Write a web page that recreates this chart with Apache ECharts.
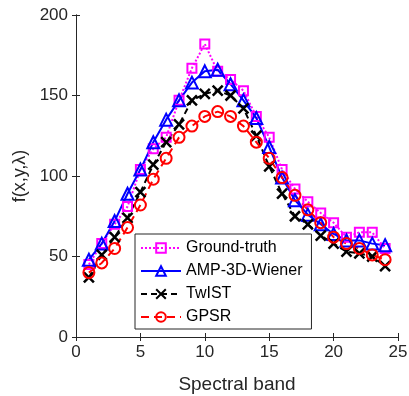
<!DOCTYPE html>
<html>
<head>
<meta charset="utf-8">
<script src="https://cdn.jsdelivr.net/npm/echarts@6/dist/echarts.min.js"></script>
<style>
  html, body { margin: 0; padding: 0; background: #fff; }
  #chart { width: 409px; height: 396px; }
</style>
</head>
<body>
<div id="chart"></div>
<script>
// spectral bands 1..24
const bands = [1, 2, 3, 4, 5, 6, 7, 8, 9, 10, 11, 12, 13, 14, 15, 16, 17, 18, 19, 20, 21, 22, 23, 24]
const groundTruth = [45, 58, 70, 81, 104, 117, 124, 147, 167, 182, 165, 160, 153, 137, 124, 104, 92, 84, 77, 71, 62, 65, 65, 55]
const ampWiener = [48, 58, 72, 89, 104, 121, 135, 147, 158, 165, 166, 157, 147, 136, 118, 99, 85, 76, 70, 64, 60, 60, 58, 57]
const twist = [37, 51, 62, 74, 90, 107, 121, 132, 147, 151, 153, 150, 142, 125, 106, 89, 75, 70, 63, 58, 53, 52, 50, 44]
const gpsr = [40, 46, 55, 68, 82, 98, 111, 124, 131, 137, 140, 137, 131, 121, 111, 99, 88, 79, 71, 62, 58, 55, 51, 48]
const xTicks = [0, 5, 10, 15, 20, 25]
const yTicks = [0, 50, 100, 150, 200]

const font = 'Liberation Sans, Arial, Helvetica, sans-serif'
const axisColor = '#262626'
const toPairs = arr => arr.map((v, i) => [bands[i], v])

const chart = echarts.init(document.getElementById('chart'))

const baseAxis = {
  axisLine: { show: true, lineStyle: { color: axisColor, width: 1 } },
  axisTick: { show: true, inside: true, length: 4, lineStyle: { color: axisColor } },
  splitLine: { show: false }
}

const option = {
  animation: false,
  backgroundColor: '#fff',
  grid: { left: 76, right: 11, top: 15, bottom: 59, containLabel: false, outerBoundsMode: 'none' },
  legend: {
    orient: 'vertical',
    left: 135,
    top: 234,
    padding: [5, 9, 3, 5],
    itemWidth: 40,
    itemHeight: 12,
    itemGap: 5,
    itemTextGap: 7,
    backgroundColor: '#fff',
    borderColor: axisColor,
    borderWidth: 1,
    textStyle: { fontFamily: font, fontSize: 16, color: '#000', lineHeight: 18 },
    data: ['Ground-truth', 'AMP-3D-Wiener', 'TwIST', 'GPSR']
  },
  xAxis: [
    {
      ...baseAxis,
      type: 'value',
      min: 0, max: 25, interval: 5,
      name: 'Spectral band',
      nameLocation: 'middle',
      nameGap: 38,
      nameTextStyle: { fontFamily: font, fontSize: 19, color: axisColor },
      axisLabel: { fontFamily: font, fontSize: 17, color: axisColor, margin: 7 }
    },
    {
      ...baseAxis,
      type: 'value', position: 'top',
      min: 0, max: 25, interval: 5,
      axisLabel: { show: false }
    }
  ],
  yAxis: [
    {
      ...baseAxis,
      type: 'value',
      min: 0, max: 200, interval: 50,
      name: 'f(x,y,λ)',
      nameLocation: 'middle',
      nameGap: 41,
      nameTextStyle: { fontFamily: font, fontSize: 18, color: axisColor },
      axisLabel: { fontFamily: font, fontSize: 17, color: axisColor, margin: 8 }
    },
    {
      ...baseAxis,
      type: 'value', position: 'right',
      min: 0, max: 200, interval: 50,
      axisLabel: { show: false }
    }
  ],
  series: [
    {
      name: 'Ground-truth',
      type: 'line',
      data: toPairs(groundTruth),
      symbol: 'rect',
      symbolSize: 9,
      lineStyle: { color: '#ff00ff', width: 2, type: 'dotted' },
      itemStyle: { color: 'transparent', borderColor: '#ff00ff', borderWidth: 2 }
    },
    {
      name: 'AMP-3D-Wiener',
      type: 'line',
      data: toPairs(ampWiener),
      symbol: 'triangle',
      symbolSize: 12,
      lineStyle: { color: '#0000ff', width: 2, type: 'solid' },
      itemStyle: { color: 'transparent', borderColor: '#0000ff', borderWidth: 2 }
    },
    {
      name: 'TwIST',
      type: 'line',
      data: toPairs(twist),
      symbol: 'path://M0,0L10,10M10,0L0,10',
      symbolSize: 10,
      lineStyle: { color: '#000', width: 2, type: [6, 4] },
      itemStyle: { color: 'transparent', borderColor: '#000', borderWidth: 2.5 }
    },
    {
      name: 'GPSR',
      type: 'line',
      data: toPairs(gpsr),
      symbol: 'circle',
      symbolSize: 11,
      lineStyle: { color: '#ff0000', width: 2, type: [8, 5] },
      itemStyle: { color: 'transparent', borderColor: '#ff0000', borderWidth: 2 }
    }
  ]
}

chart.setOption(option)
window.addEventListener('resize', () => chart.resize())
</script>
</body>
</html>
